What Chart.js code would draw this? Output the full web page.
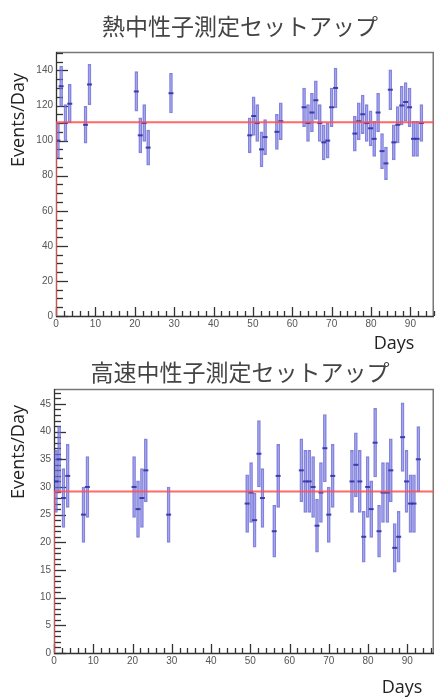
<!DOCTYPE html>
<html><head><meta charset="utf-8">
<script src="https://cdn.jsdelivr.net/npm/chart.js@4.4.1/dist/chart.umd.min.js"></script>
<style>
html,body{margin:0;padding:0;background:#fff;}
#wrap{position:relative;width:440px;height:697px;overflow:hidden;background:#fff;}
canvas{position:absolute;left:0;}
#c1{top:0;}
#c2{top:350px;}
</style></head><body>
<div id="wrap"><canvas id="c1" width="440" height="360"></canvas><canvas id="c2" width="440" height="347"></canvas></div>
<script>
// ---- data ----
const days = [0.5,1.3,2.4,3.5, 7.5,8.5, 20.4,21.4,22.4,23.4, 29.2,
  49.2,50.2,51.1,52.2,53.1,56.1,57.1,
  63,64,65,66,67,68,69,70,71,
  75.9,76.9,77.9,78.9,79.9,80.8,81.8,82.8,83.8,84.9,85.8,86.8,87.8,88.8,89.8,90.8,91.7,92.8];
const thermalRates = [100,131,110,121, 109,132, 128,103,110,96, 127,
  103,114,110,95,102,105,111,
  119,110,116,123,110,99,100,119,130,
  104,111,115,110,107,101,116,94,87,129,99,109,120,122,119,101,101,110];
const thermalErrors = [10,11.5,10.5,11, 10.5,11.5, 11.3,10,10.5,10, 11.3,
  10,11,10.5,10,10,10,10.5,
  11,10.5,11,11,10.5,10,10,11,11.4,
  10,10.5,11,10.5,10,10,11,10,9.3,11.4,10,10.4,11,11,11,10,10,10.5];
const fastRates = [31,35,28,32, 25,30, 30,26,28,33, 25,
  27,29,24,36,28,22,32,
  33,31,31,30,23,29,37,25,32,
  31,34,31,21,30,26,38,22,29,29,33,19,21,39,31,27,27,35];
const fastErrors = [5.6,6,5.3,5.7, 5,5.5, 5.5,5.1,5.3,5.7, 5,
  5.2,5.4,4.9,6,5.3,4.7,5.7,
  5.7,5.6,5.6,5.5,4.8,5.4,6.1,5,5.7,
  5.6,5.8,5.6,4.6,5.5,5.1,6.2,4.7,5.4,5.4,5.7,4.4,4.6,6.2,5.6,5.2,5.2,5.9];
const thermalFit = 110.4;
const fastFit = 29.2;
const titles = ['熱中性子測定セットアップ', '高速中性子測定セットアップ'];
const yTitle = 'Events/Day';
const xTitle = 'Days';

// ---- ROOT-like frame, inward ticks and texts ----
const rootPlugin = {
  id: 'rootAxes',
  beforeDatasetsDraw(chart, args, o) {
    const {ctx, chartArea: a, scales: {x, y}} = chart;
    ctx.save();
    ctx.strokeStyle = '#777'; ctx.lineWidth = 1.5;
    ctx.beginPath();
    ctx.moveTo(a.left, a.top + 0.5); ctx.lineTo(a.right - 0.75, a.top + 0.5); ctx.lineTo(a.right - 0.75, a.bottom);
    ctx.stroke();
    ctx.strokeStyle = '#333'; ctx.lineWidth = 1.3;
    ctx.beginPath();
    ctx.moveTo(a.left + 0.5, a.top); ctx.lineTo(a.left + 0.5, a.bottom + 0.5); ctx.lineTo(a.right, a.bottom + 0.5);
    ctx.stroke();
    const isMaj = (v, m) => Math.abs(v / m - Math.round(v / m)) < 1e-6;
    ctx.lineWidth = 1.3;
    for (let v = 0; v <= y.max + 1e-9; v += o.yMinor) {
      const p = Math.round(y.getPixelForValue(v)) + 0.5;
      ctx.beginPath(); ctx.moveTo(a.left, p); ctx.lineTo(a.left + (isMaj(v, o.yMajor) ? 12 : 7), p); ctx.stroke();
    }
    for (let v = 0; v <= x.max + 1e-9; v += o.xMinor) {
      const p = Math.round(x.getPixelForValue(v)) + 0.5;
      ctx.beginPath(); ctx.moveTo(p, a.bottom); ctx.lineTo(p, a.bottom - (isMaj(v, o.xMajor) ? 9 : 5)); ctx.stroke();
    }
    ctx.restore();
  },
  afterDraw(chart, args, o) {
    const ctx = chart.ctx;
    ctx.save();
    ctx.fillStyle = '#444';
    ctx.font = '23px "Noto Sans CJK JP"';
    ctx.textAlign = 'center'; ctx.textBaseline = 'middle';
    ctx.fillText(o.title, 240, o.titleY);
    ctx.fillStyle = '#222';
    ctx.font = '18px "Open Sans"';
    ctx.fillText(xTitle, o.daysX, o.daysY);
    ctx.translate(19, o.yTitleY);
    ctx.rotate(-Math.PI / 2);
    ctx.fillText(yTitle, 0, 0);
    ctx.restore();
  }
};

function makeChart(id, rates, errs, fit, cfg) {
  const bars = days.map((d, i) => ({x: d, y: [rates[i] - errs[i], rates[i] + errs[i]]}));
  const pts = days.map((d, i) => ({x: d, y: rates[i]}));
  const fitLine = [{x: 0, y: 0}, {x: 0, y: fit}, {x: cfg.xMax, y: fit}];
  return new Chart(document.getElementById(id), {
    type: 'bar',
    data: {
      datasets: [
        {type: 'bar', data: bars, barThickness: 3, backgroundColor: 'rgba(150,150,235,0.35)',
         borderColor: 'rgba(90,90,210,0.75)', borderWidth: 1, borderSkipped: false, order: 3},
        {type: 'scatter', data: pts, pointStyle: 'line', pointRadius: 2.5, borderWidth: 2,
         borderColor: 'rgba(50,50,165,0.9)', backgroundColor: 'rgba(50,50,165,0.9)', order: 2},
        {type: 'line', data: fitLine, borderColor: 'rgba(255,80,80,0.85)', borderWidth: 2,
         pointRadius: 0, fill: false, tension: 0, order: 0}
      ]
    },
    options: {
      responsive: false, animation: false, devicePixelRatio: 1,
      layout: {padding: {top: cfg.top, right: 0, left: 0, bottom: 0}},
      plugins: {
        legend: {display: false}, tooltip: {enabled: false}, title: {display: false},
        rootAxes: cfg.plugin
      },
      scales: {
        x: {type: 'linear', min: 0, max: cfg.xMax, offset: false,
            grid: {display: false, drawTicks: false, tickLength: 0}, border: {display: false},
            ticks: {stepSize: 10, includeBounds: false, padding: 2, color: '#555', maxRotation: 0,
                    font: {family: 'Liberation Sans', size: 10}},
            afterFit: s => { s.height = cfg.xH; }},
        y: {type: 'linear', min: 0, max: cfg.yMax,
            grid: {display: false, drawTicks: false, tickLength: 0}, border: {display: false},
            ticks: {stepSize: cfg.yStep, includeBounds: false, padding: 3, color: '#555',
                    font: {family: 'Liberation Sans', size: 10}},
            afterFit: s => { s.width = cfg.yW; }}
      }
    },
    plugins: [rootPlugin]
  });
}

makeChart('c1', thermalRates, thermalErrors, thermalFit, {
  top: 52, xH: 44, yW: 56, xMax: 96, yMax: 150.5, yStep: 20,
  plugin: {yMinor: 5, yMajor: 20, xMinor: 2, xMajor: 10, title: titles[0], titleY: 26,
           daysX: 394, daysY: 344, yTitleY: 120}
});
makeChart('c2', fastRates, fastErrors, fastFit, {
  top: 39, xH: 44, yW: 54, xMax: 96.8, yMax: 47.7, yStep: 5,
  plugin: {yMinor: 1, yMajor: 5, xMinor: 2, xMajor: 10, title: titles[1], titleY: 22,
           daysX: 402, daysY: 338, yTitleY: 102}
});
</script>
</body></html>
